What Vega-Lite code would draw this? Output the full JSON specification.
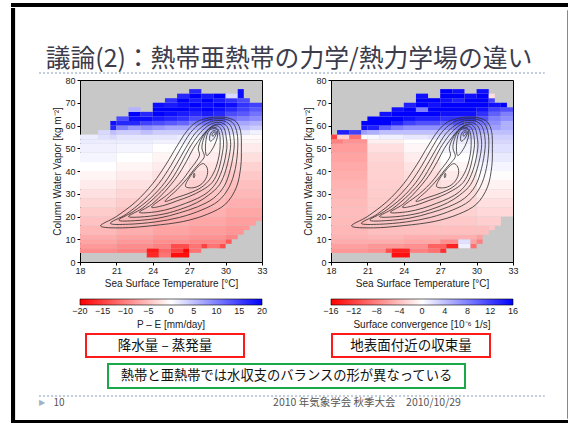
{
"$schema": "https://vega.github.io/schema/vega-lite/v6.json",
"background": "#ffffff",
"padding": {"left": 11, "top": 3, "right": 0, "bottom": 0},
"datasets": {
"pe": [
{"x":23.5,"x2":24.5,"y":2,"y2":4,"v":-17},{"x":24.5,"x2":25.5,"y":2,"y2":4,"v":-11},{"x":25.5,"x2":27,"y":2,"y2":4,"v":-19},
{"x":18,"x2":21,"y":4,"y2":6,"v":-9},{"x":21,"x2":23.5,"y":4,"y2":6,"v":-10},{"x":23.5,"x2":24.5,"y":4,"y2":6,"v":-18},{"x":24.5,"x2":25.5,"y":4,"y2":6,"v":-12},{"x":25.5,"x2":26.5,"y":4,"y2":6,"v":-15},{"x":26.5,"x2":27,"y":4,"y2":6,"v":-20},{"x":27,"x2":28,"y":4,"y2":6,"v":-11},
{"x":18,"x2":21,"y":6,"y2":8,"v":-8},{"x":21,"x2":24,"y":6,"y2":8,"v":-9},{"x":24,"x2":25.5,"y":6,"y2":8,"v":-10},{"x":25.5,"x2":27,"y":6,"y2":8,"v":-14},{"x":27,"x2":28,"y":6,"y2":8,"v":-11},{"x":28,"x2":28.5,"y":6,"y2":8,"v":-15},{"x":28.5,"x2":29.5,"y":6,"y2":8,"v":-11},{"x":29.5,"x2":30,"y":6,"y2":8,"v":-14},
{"x":18,"x2":21,"y":8,"y2":10,"v":-7.2},{"x":21,"x2":24,"y":8,"y2":10,"v":-8},{"x":24,"x2":27,"y":8,"y2":10,"v":-8.8},{"x":27,"x2":30,"y":8,"y2":10,"v":-9.5},{"x":30,"x2":30.5,"y":8,"y2":10,"v":-13},
{"x":18,"x2":21,"y":10,"y2":12,"v":-6.5},{"x":21,"x2":24,"y":10,"y2":12,"v":-7.3},{"x":24,"x2":27,"y":10,"y2":12,"v":-8.1},{"x":27,"x2":30,"y":10,"y2":12,"v":-8.5},{"x":30,"x2":31,"y":10,"y2":12,"v":-9.5},
{"x":18,"x2":21,"y":12,"y2":16,"v":-5.6},{"x":21,"x2":24,"y":12,"y2":16,"v":-6.4},{"x":24,"x2":27,"y":12,"y2":16,"v":-7.2},{"x":27,"x2":30,"y":12,"y2":16,"v":-7.8},{"x":30,"x2":31.5,"y":12,"y2":16,"v":-8.2},{"x":31.5,"x2":32,"y":14,"y2":16,"v":-8},
{"x":18,"x2":21,"y":16,"y2":20,"v":-4.8},{"x":21,"x2":24,"y":16,"y2":20,"v":-5.6},{"x":24,"x2":27,"y":16,"y2":20,"v":-6.4},{"x":27,"x2":30,"y":16,"y2":20,"v":-7},{"x":30,"x2":32.5,"y":16,"y2":20,"v":-7.6},{"x":32.5,"x2":33,"y":18,"y2":20,"v":-7.4},
{"x":18,"x2":21,"y":20,"y2":24,"v":-4},{"x":21,"x2":24,"y":20,"y2":24,"v":-4.8},{"x":24,"x2":27,"y":20,"y2":24,"v":-5.6},{"x":27,"x2":30,"y":20,"y2":24,"v":-6.2},{"x":30,"x2":33,"y":20,"y2":24,"v":-7},
{"x":18,"x2":21,"y":24,"y2":28,"v":-3.2},{"x":21,"x2":24,"y":24,"y2":28,"v":-4},{"x":24,"x2":27,"y":24,"y2":28,"v":-4.8},{"x":27,"x2":30,"y":24,"y2":28,"v":-5.4},{"x":30,"x2":33,"y":24,"y2":28,"v":-6.3},
{"x":18,"x2":21,"y":28,"y2":32,"v":-2.4},{"x":21,"x2":24,"y":28,"y2":32,"v":-3.2},{"x":24,"x2":27,"y":28,"y2":32,"v":-4},{"x":27,"x2":30,"y":28,"y2":32,"v":-4.6},{"x":30,"x2":33,"y":28,"y2":32,"v":-5.6},
{"x":18,"x2":21,"y":32,"y2":36,"v":-1.6},{"x":21,"x2":24,"y":32,"y2":36,"v":-2.4},{"x":24,"x2":27,"y":32,"y2":36,"v":-3.2},{"x":27,"x2":30,"y":32,"y2":36,"v":-3.8},{"x":30,"x2":33,"y":32,"y2":36,"v":-5},
{"x":18,"x2":21,"y":36,"y2":40,"v":-0.8},{"x":21,"x2":24,"y":36,"y2":40,"v":-1.6},{"x":24,"x2":27,"y":36,"y2":40,"v":-2.4},{"x":27,"x2":30,"y":36,"y2":40,"v":-3},{"x":30,"x2":33,"y":36,"y2":40,"v":-4.3},
{"x":18,"x2":21,"y":40,"y2":44,"v":0},{"x":21,"x2":24,"y":40,"y2":44,"v":-0.8},{"x":24,"x2":27,"y":40,"y2":44,"v":-1.6},{"x":27,"x2":30,"y":40,"y2":44,"v":-2.3},{"x":30,"x2":33,"y":40,"y2":44,"v":-3.5},
{"x":18,"x2":21,"y":44,"y2":48,"v":0.8},{"x":21,"x2":24,"y":44,"y2":48,"v":0},{"x":24,"x2":27,"y":44,"y2":48,"v":-0.8},{"x":27,"x2":30,"y":44,"y2":48,"v":-1.6},{"x":30,"x2":33,"y":44,"y2":48,"v":-2.6},
{"x":18,"x2":21,"y":48,"y2":52,"v":1.2},{"x":21,"x2":24,"y":48,"y2":52,"v":0.8},{"x":24,"x2":27,"y":48,"y2":52,"v":0},{"x":27,"x2":30,"y":48,"y2":52,"v":-0.8},{"x":30,"x2":33,"y":48,"y2":52,"v":-1.6},
{"x":18,"x2":21,"y":52,"y2":54,"v":1.5},{"x":21,"x2":24,"y":52,"y2":54,"v":1.5},{"x":24,"x2":27,"y":52,"y2":54,"v":1},{"x":27,"x2":30,"y":52,"y2":54,"v":0},{"x":30,"x2":33,"y":52,"y2":54,"v":-0.8},
{"x":18,"x2":19.5,"y":54,"y2":56,"v":1.5},{"x":19.5,"x2":20.5,"y":54,"y2":56,"v":2.5},{"x":20.5,"x2":21,"y":54,"y2":56,"v":3},{"x":21,"x2":26,"y":54,"y2":56,"v":2},{"x":26,"x2":27,"y":54,"y2":56,"v":1.5},{"x":27,"x2":28,"y":54,"y2":56,"v":1},{"x":28,"x2":29,"y":54,"y2":56,"v":1.5},{"x":29,"x2":30,"y":54,"y2":56,"v":1},{"x":30,"x2":31,"y":54,"y2":56,"v":0},{"x":31,"x2":33,"y":54,"y2":56,"v":-0.5},
{"x":19.5,"x2":20.5,"y":56,"y2":58,"v":3},{"x":20.5,"x2":21,"y":56,"y2":58,"v":5},{"x":21,"x2":23,"y":56,"y2":58,"v":4},{"x":23,"x2":24,"y":56,"y2":58,"v":5},{"x":24,"x2":27,"y":56,"y2":58,"v":4},{"x":27,"x2":28,"y":56,"y2":58,"v":3},{"x":28,"x2":30,"y":56,"y2":58,"v":4},{"x":30,"x2":31,"y":56,"y2":58,"v":3},{"x":31,"x2":32,"y":56,"y2":58,"v":2},{"x":32,"x2":33,"y":56,"y2":58,"v":1},
{"x":20.5,"x2":21,"y":58,"y2":60,"v":17},{"x":21,"x2":22,"y":58,"y2":60,"v":10},{"x":22,"x2":23,"y":58,"y2":60,"v":8},{"x":23,"x2":24,"y":58,"y2":60,"v":9},{"x":24,"x2":25,"y":58,"y2":60,"v":8},{"x":25,"x2":27,"y":58,"y2":60,"v":7},{"x":27,"x2":28,"y":58,"y2":60,"v":6},{"x":28,"x2":30,"y":58,"y2":60,"v":7},{"x":30,"x2":32,"y":58,"y2":60,"v":5},{"x":32,"x2":33,"y":58,"y2":60,"v":4},
{"x":20.5,"x2":21,"y":60,"y2":62,"v":19},{"x":21,"x2":23,"y":60,"y2":62,"v":17},{"x":23,"x2":24,"y":60,"y2":62,"v":15},{"x":24,"x2":25,"y":60,"y2":62,"v":14},{"x":25,"x2":26,"y":60,"y2":62,"v":13},{"x":26,"x2":27,"y":60,"y2":62,"v":12},{"x":27,"x2":28,"y":60,"y2":62,"v":10},{"x":28,"x2":30,"y":60,"y2":62,"v":11},{"x":30,"x2":31,"y":60,"y2":62,"v":8},{"x":31,"x2":32,"y":60,"y2":62,"v":7},{"x":32,"x2":33,"y":60,"y2":62,"v":6},
{"x":21,"x2":22,"y":62,"y2":64,"v":14},{"x":22,"x2":24,"y":62,"y2":64,"v":19},{"x":24,"x2":25,"y":62,"y2":64,"v":18},{"x":25,"x2":26,"y":62,"y2":64,"v":17},{"x":26,"x2":27,"y":62,"y2":64,"v":16},{"x":27,"x2":28,"y":62,"y2":64,"v":14},{"x":28,"x2":29,"y":62,"y2":64,"v":15},{"x":29,"x2":30,"y":62,"y2":64,"v":14},{"x":30,"x2":31,"y":62,"y2":64,"v":11},{"x":31,"x2":32,"y":62,"y2":64,"v":10},{"x":32,"x2":33,"y":62,"y2":64,"v":9},
{"x":22,"x2":23,"y":64,"y2":66,"v":20},{"x":23,"x2":24,"y":64,"y2":66,"v":17},{"x":24,"x2":25,"y":64,"y2":66,"v":20},{"x":25,"x2":26,"y":64,"y2":66,"v":19},{"x":26,"x2":27,"y":64,"y2":66,"v":18},{"x":27,"x2":28,"y":64,"y2":66,"v":17},{"x":28,"x2":29,"y":64,"y2":66,"v":18},{"x":29,"x2":30,"y":64,"y2":66,"v":17},{"x":30,"x2":31,"y":64,"y2":66,"v":14},{"x":31,"x2":32,"y":64,"y2":66,"v":13},{"x":32,"x2":33,"y":64,"y2":66,"v":11},
{"x":22,"x2":23,"y":66,"y2":68,"v":6},{"x":24,"x2":27,"y":66,"y2":68,"v":20},{"x":27,"x2":28,"y":66,"y2":68,"v":19},{"x":28,"x2":29,"y":66,"y2":68,"v":20},{"x":29,"x2":30,"y":66,"y2":68,"v":19},{"x":30,"x2":31,"y":66,"y2":68,"v":17},{"x":31,"x2":32,"y":66,"y2":68,"v":15},{"x":32,"x2":33,"y":66,"y2":68,"v":13},
{"x":24,"x2":25,"y":68,"y2":70,"v":19},{"x":25,"x2":26,"y":68,"y2":70,"v":18},{"x":26,"x2":27,"y":68,"y2":70,"v":19},{"x":27,"x2":28,"y":68,"y2":70,"v":20},{"x":28,"x2":29,"y":68,"y2":70,"v":19},{"x":29,"x2":30,"y":68,"y2":70,"v":20},{"x":30,"x2":31,"y":68,"y2":70,"v":19},{"x":31,"x2":32,"y":68,"y2":70,"v":16},{"x":32,"x2":33,"y":68,"y2":70,"v":15},
{"x":25,"x2":26,"y":70,"y2":72,"v":16},{"x":26,"x2":27,"y":70,"y2":72,"v":20},{"x":27,"x2":28,"y":70,"y2":72,"v":18},{"x":28,"x2":29,"y":70,"y2":72,"v":20},{"x":29,"x2":30,"y":70,"y2":72,"v":18},{"x":30,"x2":31,"y":70,"y2":72,"v":16},{"x":31,"x2":32,"y":70,"y2":72,"v":14},
{"x":26,"x2":27,"y":72,"y2":74,"v":17},{"x":27,"x2":28,"y":72,"y2":74,"v":20},{"x":28,"x2":29,"y":72,"y2":74,"v":18},{"x":29,"x2":30,"y":72,"y2":74,"v":20},{"x":30,"x2":31,"y":72,"y2":74,"v":3},{"x":31,"x2":31.5,"y":72,"y2":76,"v":19},
{"x":27,"x2":28,"y":74,"y2":76,"v":17}
],
"cv": [
{"x":23,"x2":24.5,"y":2,"y2":4,"v":-15},
{"x":18,"x2":21,"y":4,"y2":6,"v":-6.5},{"x":21,"x2":22.5,"y":4,"y2":6,"v":-7},{"x":22.5,"x2":23,"y":4,"y2":6,"v":-11},{"x":23,"x2":24.5,"y":4,"y2":6,"v":-14},{"x":24.5,"x2":26,"y":4,"y2":6,"v":-8},{"x":26,"x2":27,"y":4,"y2":6,"v":-9},{"x":27,"x2":27.5,"y":4,"y2":6,"v":-13},
{"x":18,"x2":21,"y":6,"y2":8,"v":-6},{"x":21,"x2":24,"y":6,"y2":8,"v":-6.5},{"x":24,"x2":26,"y":6,"y2":8,"v":-7},{"x":26,"x2":27.5,"y":6,"y2":8,"v":-10},{"x":27.5,"x2":28.5,"y":6,"y2":8,"v":-14},{"x":28.5,"x2":29.5,"y":6,"y2":8,"v":1},{"x":29.5,"x2":30,"y":6,"y2":8,"v":-9},
{"x":18,"x2":21,"y":8,"y2":10,"v":-5.2},{"x":21,"x2":24,"y":8,"y2":10,"v":-5.2},{"x":24,"x2":27,"y":8,"y2":10,"v":-5.5},{"x":27,"x2":28.5,"y":8,"y2":10,"v":-7},{"x":28.5,"x2":29.5,"y":8,"y2":10,"v":2},{"x":29.5,"x2":30,"y":8,"y2":10,"v":-6},{"x":30,"x2":30.5,"y":8,"y2":10,"v":-8},
{"x":18,"x2":21,"y":10,"y2":12,"v":-4.8},{"x":21,"x2":24,"y":10,"y2":12,"v":-4.6},{"x":24,"x2":27,"y":10,"y2":12,"v":-5},{"x":27,"x2":30,"y":10,"y2":12,"v":-5},{"x":30,"x2":30.5,"y":10,"y2":12,"v":-6},
{"x":18,"x2":21,"y":12,"y2":16,"v":-4.5},{"x":21,"x2":24,"y":12,"y2":16,"v":-4},{"x":24,"x2":27,"y":12,"y2":16,"v":-4},{"x":27,"x2":30,"y":12,"y2":16,"v":-4},{"x":30,"x2":31,"y":12,"y2":16,"v":-4},{"x":31,"x2":31.5,"y":14,"y2":16,"v":-3.5},
{"x":18,"x2":21,"y":16,"y2":20,"v":-4.3},{"x":21,"x2":24,"y":16,"y2":20,"v":-3.6},{"x":24,"x2":27,"y":16,"y2":20,"v":-3.5},{"x":27,"x2":30,"y":16,"y2":20,"v":-3.4},{"x":30,"x2":32,"y":16,"y2":20,"v":-3},
{"x":18,"x2":21,"y":20,"y2":24,"v":-4.2},{"x":21,"x2":24,"y":20,"y2":24,"v":-3.4},{"x":24,"x2":27,"y":20,"y2":24,"v":-3.1},{"x":27,"x2":30,"y":20,"y2":24,"v":-2.9},{"x":30,"x2":33,"y":20,"y2":24,"v":-2.4},
{"x":18,"x2":21,"y":24,"y2":28,"v":-4.3},{"x":21,"x2":24,"y":24,"y2":28,"v":-3.3},{"x":24,"x2":27,"y":24,"y2":28,"v":-3},{"x":27,"x2":30,"y":24,"y2":28,"v":-2.6},{"x":30,"x2":33,"y":24,"y2":28,"v":-2},
{"x":18,"x2":21,"y":28,"y2":32,"v":-4.5},{"x":21,"x2":24,"y":28,"y2":32,"v":-3.2},{"x":24,"x2":27,"y":28,"y2":32,"v":-2.8},{"x":27,"x2":30,"y":28,"y2":32,"v":-2.3},{"x":30,"x2":33,"y":28,"y2":32,"v":-1.4},
{"x":18,"x2":21,"y":32,"y2":36,"v":-4.8},{"x":21,"x2":24,"y":32,"y2":36,"v":-3},{"x":24,"x2":27,"y":32,"y2":36,"v":-2.5},{"x":27,"x2":30,"y":32,"y2":36,"v":-1.9},{"x":30,"x2":33,"y":32,"y2":36,"v":-0.8},
{"x":18,"x2":21,"y":36,"y2":40,"v":-5.1},{"x":21,"x2":24,"y":36,"y2":40,"v":-2.9},{"x":24,"x2":27,"y":36,"y2":40,"v":-2.2},{"x":27,"x2":30,"y":36,"y2":40,"v":-1.3},{"x":30,"x2":33,"y":36,"y2":40,"v":-0.2},
{"x":18,"x2":21,"y":40,"y2":44,"v":-5.4},{"x":21,"x2":24,"y":40,"y2":44,"v":-2.8},{"x":24,"x2":27,"y":40,"y2":44,"v":-1.8},{"x":27,"x2":30,"y":40,"y2":44,"v":-0.6},{"x":30,"x2":33,"y":40,"y2":44,"v":0.6},
{"x":18,"x2":21,"y":44,"y2":48,"v":-5.8},{"x":21,"x2":24,"y":44,"y2":48,"v":-2.6},{"x":24,"x2":27,"y":44,"y2":48,"v":-1.2},{"x":27,"x2":30,"y":44,"y2":48,"v":0},{"x":30,"x2":33,"y":44,"y2":48,"v":1.3},
{"x":18,"x2":21,"y":48,"y2":52,"v":-6.2},{"x":21,"x2":24,"y":48,"y2":52,"v":-2},{"x":24,"x2":27,"y":48,"y2":52,"v":-0.5},{"x":27,"x2":30,"y":48,"y2":52,"v":0.6},{"x":30,"x2":33,"y":48,"y2":52,"v":2},
{"x":18,"x2":19,"y":52,"y2":54,"v":-8},{"x":19,"x2":21,"y":52,"y2":54,"v":-6.8},{"x":21,"x2":24,"y":52,"y2":54,"v":-1},{"x":24,"x2":27,"y":52,"y2":54,"v":0},{"x":27,"x2":30,"y":52,"y2":54,"v":1.2},{"x":30,"x2":33,"y":52,"y2":54,"v":2.6},
{"x":18,"x2":18.5,"y":54,"y2":56,"v":-12},{"x":18.5,"x2":19.5,"y":54,"y2":56,"v":-3},{"x":19.5,"x2":20.5,"y":54,"y2":56,"v":-9},{"x":20.5,"x2":21,"y":54,"y2":56,"v":0},{"x":21,"x2":22,"y":54,"y2":56,"v":0.5},{"x":22,"x2":24,"y":54,"y2":56,"v":1},{"x":24,"x2":26,"y":54,"y2":56,"v":1.5},{"x":26,"x2":28,"y":54,"y2":56,"v":2},{"x":28,"x2":29,"y":54,"y2":56,"v":2.5},{"x":29,"x2":33,"y":54,"y2":56,"v":3},
{"x":18.5,"x2":19.5,"y":56,"y2":58,"v":14},{"x":19.5,"x2":20.5,"y":56,"y2":58,"v":12},{"x":20.5,"x2":21,"y":56,"y2":58,"v":6},{"x":21,"x2":22,"y":56,"y2":58,"v":5},{"x":22,"x2":28,"y":56,"y2":58,"v":4},{"x":28,"x2":31,"y":56,"y2":58,"v":5},{"x":31,"x2":33,"y":56,"y2":58,"v":4},
{"x":20.5,"x2":21,"y":58,"y2":60,"v":15},{"x":21,"x2":22,"y":58,"y2":60,"v":14},{"x":22,"x2":23,"y":58,"y2":60,"v":10},{"x":23,"x2":24,"y":58,"y2":60,"v":8},{"x":24,"x2":28,"y":58,"y2":60,"v":7},{"x":28,"x2":30,"y":58,"y2":60,"v":8},{"x":30,"x2":31,"y":58,"y2":60,"v":7},{"x":31,"x2":32,"y":58,"y2":60,"v":6},{"x":32,"x2":33,"y":58,"y2":60,"v":5},
{"x":20.5,"x2":23,"y":60,"y2":62,"v":16},{"x":23,"x2":24,"y":60,"y2":62,"v":14},{"x":24,"x2":25,"y":60,"y2":62,"v":12},{"x":25,"x2":27,"y":60,"y2":62,"v":11},{"x":27,"x2":28,"y":60,"y2":62,"v":10},{"x":28,"x2":29,"y":60,"y2":62,"v":11},{"x":29,"x2":30,"y":60,"y2":62,"v":10},{"x":30,"x2":31,"y":60,"y2":62,"v":9},{"x":31,"x2":32,"y":60,"y2":62,"v":7},{"x":32,"x2":33,"y":60,"y2":62,"v":5},
{"x":21,"x2":24,"y":62,"y2":64,"v":16},{"x":24,"x2":25,"y":62,"y2":64,"v":15},{"x":25,"x2":27,"y":62,"y2":64,"v":14},{"x":27,"x2":30,"y":62,"y2":64,"v":13},{"x":30,"x2":31,"y":62,"y2":64,"v":11},{"x":31,"x2":32,"y":62,"y2":64,"v":8},{"x":32,"x2":33,"y":62,"y2":64,"v":7},
{"x":22,"x2":23,"y":64,"y2":66,"v":15},{"x":23,"x2":27,"y":64,"y2":66,"v":16},{"x":27,"x2":30,"y":64,"y2":66,"v":15},{"x":30,"x2":31,"y":64,"y2":66,"v":13},{"x":31,"x2":32,"y":64,"y2":66,"v":10},{"x":32,"x2":33,"y":64,"y2":66,"v":8},
{"x":23,"x2":24,"y":66,"y2":68,"v":15},{"x":24,"x2":25,"y":66,"y2":68,"v":16},{"x":25,"x2":26,"y":66,"y2":68,"v":8},{"x":26,"x2":30,"y":66,"y2":68,"v":16},{"x":30,"x2":31,"y":66,"y2":68,"v":15},{"x":31,"x2":32,"y":66,"y2":68,"v":12},{"x":32,"x2":33,"y":66,"y2":68,"v":11},
{"x":24,"x2":25,"y":68,"y2":70,"v":14},{"x":25,"x2":26,"y":68,"y2":70,"v":16},{"x":26,"x2":27,"y":68,"y2":70,"v":15},{"x":27,"x2":31,"y":68,"y2":70,"v":16},{"x":31,"x2":32,"y":68,"y2":70,"v":15},{"x":32,"x2":32.5,"y":68,"y2":70,"v":16},
{"x":25,"x2":27,"y":70,"y2":72,"v":16},{"x":27,"x2":28,"y":70,"y2":72,"v":15},{"x":28,"x2":29,"y":70,"y2":72,"v":14},{"x":29,"x2":31,"y":70,"y2":72,"v":16},{"x":31,"x2":31.5,"y":70,"y2":72,"v":12},
{"x":25,"x2":26,"y":72,"y2":74,"v":15},{"x":27,"x2":29,"y":72,"y2":74,"v":16},{"x":29,"x2":30,"y":72,"y2":74,"v":15},{"x":30,"x2":31,"y":72,"y2":74,"v":16},{"x":31,"x2":31.5,"y":72,"y2":74,"v":-2},
{"x":27,"x2":28,"y":74,"y2":76,"v":16},{"x":28,"x2":29,"y":74,"y2":76,"v":15},{"x":30,"x2":31,"y":74,"y2":76,"v":15}
],
"cont": [
{"c":"1","sst":19.7,"cwv":15.8},{"c":"1","sst":21.5,"cwv":15.0},{"c":"1","sst":24.0,"cwv":16.0},{"c":"1","sst":26.5,"cwv":17.8},{"c":"1","sst":28.5,"cwv":21.0},{"c":"1","sst":30.0,"cwv":25.5},{"c":"1","sst":30.9,"cwv":33},{"c":"1","sst":31.25,"cwv":42},{"c":"1","sst":31.3,"cwv":50},{"c":"1","sst":31.25,"cwv":57},{"c":"1","sst":30.9,"cwv":61.5},{"c":"1","sst":30.2,"cwv":63.3},{"c":"1","sst":29.5,"cwv":63.7},{"c":"1","sst":28.6,"cwv":63.3},{"c":"1","sst":27.6,"cwv":61.5},{"c":"1","sst":26.8,"cwv":57.5},{"c":"1","sst":26.0,"cwv":51},{"c":"1","sst":25.1,"cwv":43},{"c":"1","sst":24.0,"cwv":34.5},{"c":"1","sst":22.6,"cwv":26.5},{"c":"1","sst":21.0,"cwv":20},
{"c":"2","sst":20.5,"cwv":17.0},{"c":"2","sst":22.0,"cwv":16.6},{"c":"2","sst":24.2,"cwv":17.6},{"c":"2","sst":26.2,"cwv":19.6},{"c":"2","sst":28.0,"cwv":22.8},{"c":"2","sst":29.4,"cwv":26.8},{"c":"2","sst":30.3,"cwv":33},{"c":"2","sst":30.8,"cwv":41},{"c":"2","sst":31.0,"cwv":50},{"c":"2","sst":30.95,"cwv":56.5},{"c":"2","sst":30.65,"cwv":60.8},{"c":"2","sst":30.1,"cwv":62.6},{"c":"2","sst":29.5,"cwv":63.0},{"c":"2","sst":28.7,"cwv":62.6},{"c":"2","sst":27.9,"cwv":60.8},{"c":"2","sst":27.1,"cwv":56.8},{"c":"2","sst":26.3,"cwv":50},{"c":"2","sst":25.5,"cwv":42.5},{"c":"2","sst":24.5,"cwv":34.5},{"c":"2","sst":23.2,"cwv":27},{"c":"2","sst":21.8,"cwv":21},
{"c":"3","sst":21.2,"cwv":18.4},{"c":"3","sst":22.6,"cwv":18.2},{"c":"3","sst":24.5,"cwv":19.3},{"c":"3","sst":26.2,"cwv":21.6},{"c":"3","sst":27.7,"cwv":24.3},{"c":"3","sst":29.0,"cwv":28.0},{"c":"3","sst":29.9,"cwv":33.5},{"c":"3","sst":30.4,"cwv":41},{"c":"3","sst":30.7,"cwv":50},{"c":"3","sst":30.65,"cwv":56},{"c":"3","sst":30.4,"cwv":60},{"c":"3","sst":29.95,"cwv":61.8},{"c":"3","sst":29.5,"cwv":62.2},{"c":"3","sst":28.85,"cwv":61.8},{"c":"3","sst":28.2,"cwv":60},{"c":"3","sst":27.45,"cwv":56.3},{"c":"3","sst":26.7,"cwv":50},{"c":"3","sst":25.95,"cwv":43},{"c":"3","sst":25.0,"cwv":35},{"c":"3","sst":23.8,"cwv":28},{"c":"3","sst":22.4,"cwv":22.2},
{"c":"4","sst":22.0,"cwv":20.0},{"c":"4","sst":23.3,"cwv":19.9},{"c":"4","sst":25.0,"cwv":21.2},{"c":"4","sst":26.4,"cwv":23.4},{"c":"4","sst":27.6,"cwv":26.0},{"c":"4","sst":28.6,"cwv":29.4},{"c":"4","sst":29.5,"cwv":34},{"c":"4","sst":30.05,"cwv":41},{"c":"4","sst":30.4,"cwv":50},{"c":"4","sst":30.35,"cwv":55.5},{"c":"4","sst":30.15,"cwv":59.3},{"c":"4","sst":29.8,"cwv":60.9},{"c":"4","sst":29.5,"cwv":61.4},{"c":"4","sst":28.95,"cwv":61.0},{"c":"4","sst":28.4,"cwv":59.3},{"c":"4","sst":27.75,"cwv":55.8},{"c":"4","sst":27.0,"cwv":50},{"c":"4","sst":26.35,"cwv":43.5},{"c":"4","sst":25.5,"cwv":36},{"c":"4","sst":24.4,"cwv":29.5},{"c":"4","sst":23.1,"cwv":23.5},
{"c":"5","sst":22.9,"cwv":21.8},{"c":"5","sst":24.3,"cwv":22.1},{"c":"5","sst":25.6,"cwv":23.7},{"c":"5","sst":26.7,"cwv":25.8},{"c":"5","sst":27.7,"cwv":28.0},{"c":"5","sst":28.6,"cwv":31},{"c":"5","sst":29.3,"cwv":35.5},{"c":"5","sst":29.8,"cwv":42},{"c":"5","sst":30.1,"cwv":50},{"c":"5","sst":30.05,"cwv":55},{"c":"5","sst":29.9,"cwv":58.5},{"c":"5","sst":29.65,"cwv":60.1},{"c":"5","sst":29.45,"cwv":60.6},{"c":"5","sst":29.05,"cwv":60.2},{"c":"5","sst":28.6,"cwv":58.5},{"c":"5","sst":28.05,"cwv":55.3},{"c":"5","sst":27.35,"cwv":50},{"c":"5","sst":26.75,"cwv":44},{"c":"5","sst":26.0,"cwv":37.5},{"c":"5","sst":25.0,"cwv":31},{"c":"5","sst":23.9,"cwv":25.3},
{"c":"6","sst":23.9,"cwv":24.2},{"c":"6","sst":25.0,"cwv":25.0},{"c":"6","sst":26.0,"cwv":26.9},{"c":"6","sst":27.0,"cwv":28.8},{"c":"6","sst":28.0,"cwv":31.4},{"c":"6","sst":28.9,"cwv":35},{"c":"6","sst":29.45,"cwv":41},{"c":"6","sst":29.8,"cwv":50},{"c":"6","sst":29.8,"cwv":54.7},{"c":"6","sst":29.65,"cwv":58},{"c":"6","sst":29.45,"cwv":59.5},{"c":"6","sst":29.15,"cwv":59.9},{"c":"6","sst":28.8,"cwv":59.3},{"c":"6","sst":28.4,"cwv":57.3},{"c":"6","sst":28.0,"cwv":54},{"c":"6","sst":27.75,"cwv":50},{"c":"6","sst":27.85,"cwv":47},{"c":"6","sst":27.55,"cwv":44},{"c":"6","sst":27.05,"cwv":40.5},{"c":"6","sst":26.35,"cwv":35.5},{"c":"6","sst":25.3,"cwv":30},
{"c":"7","sst":25.0,"cwv":26.7},{"c":"7","sst":26.0,"cwv":28.4},{"c":"7","sst":27.0,"cwv":30.2},{"c":"7","sst":28.0,"cwv":32.8},{"c":"7","sst":28.7,"cwv":36.4},{"c":"7","sst":29.2,"cwv":41.5},{"c":"7","sst":29.5,"cwv":48},{"c":"7","sst":29.55,"cwv":54},{"c":"7","sst":29.45,"cwv":57.4},{"c":"7","sst":29.25,"cwv":58.9},{"c":"7","sst":29.0,"cwv":59.2},{"c":"7","sst":28.7,"cwv":58.6},{"c":"7","sst":28.4,"cwv":56.8},{"c":"7","sst":28.15,"cwv":53.5},{"c":"7","sst":28.05,"cwv":50},{"c":"7","sst":28.25,"cwv":46.5},{"c":"7","sst":27.95,"cwv":44},{"c":"7","sst":27.45,"cwv":41},{"c":"7","sst":26.8,"cwv":36.5},{"c":"7","sst":26.0,"cwv":31.8},
{"c":"8a","sst":29.25,"cwv":58.4},{"c":"8a","sst":28.95,"cwv":58.6},{"c":"8a","sst":28.65,"cwv":57.8},{"c":"8a","sst":28.45,"cwv":55.5},{"c":"8a","sst":28.35,"cwv":52},{"c":"8a","sst":28.35,"cwv":48.5},{"c":"8a","sst":28.45,"cwv":46.8},{"c":"8a","sst":28.7,"cwv":48},{"c":"8a","sst":29.05,"cwv":51},{"c":"8a","sst":29.3,"cwv":54.5},{"c":"8a","sst":29.35,"cwv":57},
{"c":"8b","sst":26.7,"cwv":33.2},{"c":"8b","sst":27.4,"cwv":32.7},{"c":"8b","sst":28.05,"cwv":34.4},{"c":"8b","sst":28.45,"cwv":37.6},{"c":"8b","sst":28.5,"cwv":41},{"c":"8b","sst":28.2,"cwv":43.2},{"c":"8b","sst":27.85,"cwv":42.5},{"c":"8b","sst":27.5,"cwv":40.5},{"c":"8b","sst":27.0,"cwv":37},
{"c":"9a","sst":29.1,"cwv":57.8},{"c":"9a","sst":28.85,"cwv":57.2},{"c":"9a","sst":28.7,"cwv":55.5},{"c":"9a","sst":28.7,"cwv":53.3},{"c":"9a","sst":28.9,"cwv":53.5},{"c":"9a","sst":29.15,"cwv":55.3},{"c":"9a","sst":29.25,"cwv":57},
{"c":"10a","sst":29.05,"cwv":57.2},{"c":"10a","sst":28.9,"cwv":56.4},{"c":"10a","sst":28.92,"cwv":55.3},{"c":"10a","sst":29.1,"cwv":56},{"c":"10a","sst":29.15,"cwv":56.9},
{"c":"10b","sst":27.38,"cwv":37.0},{"c":"10b","sst":27.46,"cwv":38},{"c":"10b","sst":27.42,"cwv":39},{"c":"10b","sst":27.34,"cwv":38}
]
},
"vconcat": [
 {"width": 553, "height": 0.1, "data": {"values": []}, "mark": "text", "view": {"stroke": "#000000", "strokeWidth": 4}},
 {"hconcat": [
  {"width": 0.1, "height": 408, "data": {"values": []}, "mark": "text", "view": {"stroke": "#000000", "strokeWidth": 4}},
  {"width": 21.5, "height": 1, "data": {"values": []}, "mark": "text"},
  {"vconcat": [
   {"width": 1, "height": 36, "data": {"values": []}, "mark": "text"},
   {"width": 500, "height": 25, "data": {"values": [{"t": "議論(2)：熱帯亜熱帯の力学/熱力学場の違い"}]}, "mark": {"type": "text", "font": "Noto Sans CJK JP", "fontSize": 24.8, "color": "#3c3c4c"}, "encoding": {"text": {"field": "t", "type": "nominal"}}},
   {"width": 505, "height": 0.1, "data": {"values": []}, "mark": "text", "view": {"stroke": "#aebfd3", "strokeWidth": 1.5, "strokeDash": [2, 2]}},
   {"width": 1, "height": 1, "data": {"values": []}, "mark": "text"},
   {"hconcat": [
    {"width": 12.5, "height": 1, "data": {"values": []}, "mark": "text"},
    {"hconcat": [
     {"width": 182, "height": 182, "view": {"fill": "#c8c8c8", "stroke": "#000000", "strokeWidth": 1},
      "layer": [
       {"data": {"name": "pe"}, "mark": {"type": "rect"},
        "encoding": {
         "x": {"field": "x", "type": "quantitative", "scale": {"domain": [18, 33], "nice": false, "zero": false}, "axis": {"values": [18, 21, 24, 27, 30, 33], "tickCount": 20, "labelOverlap": false, "title": "Sea Surface Temperature [°C]"}},
         "x2": {"field": "x2"},
         "y": {"field": "y", "type": "quantitative", "scale": {"domain": [0, 80], "nice": false, "zero": false}, "axis": {"values": [0, 10, 20, 30, 40, 50, 60, 70, 80], "tickCount": 20, "labelOverlap": false, "title": "Column Water Vapor [kg m⁻²]"}},
         "y2": {"field": "y2"},
         "fill": {"field": "v", "type": "quantitative", "scale": {"domain": [-20, 0, 20], "range": ["#ff0000", "#ffffff", "#0000ff"], "interpolate": "rgb"}, "legend": {"type": "gradient", "title": "P – E [mm/day]", "values": [-20, -15, -10, -5, 0, 5, 10, 15, 20], "encode": {"labels": {"update": {"align": {"value": "center"}}}}}}
        }},
       {"data": {"name": "cont"}, "mark": {"type": "line", "interpolate": "cardinal-closed", "color": "#2a2a2a", "strokeWidth": 0.8},
        "encoding": {"x": {"field": "sst", "type": "quantitative"}, "y": {"field": "cwv", "type": "quantitative"}, "detail": {"field": "c", "type": "nominal"}, "order": {"value": null}}}
      ]},
     {"width": 182, "height": 182, "view": {"fill": "#c8c8c8", "stroke": "#000000", "strokeWidth": 1},
      "layer": [
       {"data": {"name": "cv"}, "mark": {"type": "rect"},
        "encoding": {
         "x": {"field": "x", "type": "quantitative", "scale": {"domain": [18, 33], "nice": false, "zero": false}, "axis": {"values": [18, 21, 24, 27, 30, 33], "tickCount": 20, "labelOverlap": false, "title": "Sea Surface Temperature [°C]"}},
         "x2": {"field": "x2"},
         "y": {"field": "y", "type": "quantitative", "scale": {"domain": [0, 80], "nice": false, "zero": false}, "axis": {"values": [0, 10, 20, 30, 40, 50, 60, 70, 80], "tickCount": 20, "labelOverlap": false, "title": "Column Water Vapor [kg m⁻²]"}},
         "y2": {"field": "y2"},
         "fill": {"field": "v", "type": "quantitative", "scale": {"domain": [-16, 0, 16], "range": ["#ff0000", "#ffffff", "#0000ff"], "interpolate": "rgb"}, "legend": {"type": "gradient", "title": "Surface convergence  [10⁻⁶ 1/s]", "values": [-16, -12, -8, -4, 0, 4, 8, 12, 16], "encode": {"labels": {"update": {"align": {"value": "center"}}}}}}
        }},
       {"data": {"name": "cont"}, "mark": {"type": "line", "interpolate": "cardinal-closed", "color": "#2a2a2a", "strokeWidth": 0.8},
        "encoding": {"x": {"field": "sst", "type": "quantitative"}, "y": {"field": "cwv", "type": "quantitative"}, "detail": {"field": "c", "type": "nominal"}, "order": {"value": null}}}
      ]}
    ], "spacing": 34, "resolve": {"scale": {"fill": "independent"}, "legend": {"fill": "independent"}}}
   ], "spacing": 0},
   {"width": 1, "height": 2, "data": {"values": []}, "mark": "text"},
   {"hconcat": [
    {"width": 46, "height": 1, "data": {"values": []}, "mark": "text"},
    {"width": 158, "height": 23, "view": {"stroke": "#ff1a1a", "strokeWidth": 2}, "data": {"values": [{"t": "降水量 – 蒸発量"}]}, "mark": {"type": "text", "font": "Noto Sans CJK JP", "fontSize": 13.5, "color": "#111111"}, "encoding": {"text": {"field": "t", "type": "nominal"}}},
    {"width": 86, "height": 1, "data": {"values": []}, "mark": "text"},
    {"width": 158, "height": 23, "view": {"stroke": "#ff1a1a", "strokeWidth": 2}, "data": {"values": [{"t": "地表面付近の収束量"}]}, "mark": {"type": "text", "font": "Noto Sans CJK JP", "fontSize": 13.5, "color": "#111111"}, "encoding": {"text": {"field": "t", "type": "nominal"}}}
   ], "spacing": 0},
   {"width": 1, "height": 5, "data": {"values": []}, "mark": "text"},
   {"hconcat": [
    {"width": 68, "height": 1, "data": {"values": []}, "mark": "text"},
    {"width": 357, "height": 24, "view": {"stroke": "#19a84a", "strokeWidth": 2}, "data": {"values": [{"t": "熱帯と亜熱帯では水収支のバランスの形が異なっている"}]}, "mark": {"type": "text", "font": "Noto Sans CJK JP", "fontSize": 13.3, "color": "#111111"}, "encoding": {"text": {"field": "t", "type": "nominal"}}}
   ], "spacing": 0},
   {"width": 1, "height": 5.5, "data": {"values": []}, "mark": "text"},
   {"width": 505, "height": 0.1, "data": {"values": []}, "mark": "text", "view": {"stroke": "#aebfd3", "strokeWidth": 1.5, "strokeDash": [2, 2]}},
   {"hconcat": [
    {"width": 6, "height": 9, "data": {"values": [{"t": "▶"}]}, "mark": {"type": "text", "font": "DejaVu Sans", "fontSize": 8, "color": "#9fb3c8"}, "encoding": {"text": {"field": "t", "type": "nominal"}}},
    {"width": 7, "height": 1, "data": {"values": []}, "mark": "text"},
    {"width": 10, "height": 9, "data": {"values": [{"t": "10"}]}, "mark": {"type": "text", "font": "Noto Sans CJK JP", "fontSize": 10, "color": "#555555"}, "encoding": {"text": {"field": "t", "type": "nominal"}}},
    {"width": 192, "height": 1, "data": {"values": []}, "mark": "text"},
    {"width": 220, "height": 9, "data": {"values": [{"t": "2010 年気象学会 秋季大会　2010/10/29"}]}, "mark": {"type": "text", "font": "Noto Sans CJK JP", "fontSize": 10.5, "color": "#555555"}, "encoding": {"text": {"field": "t", "type": "nominal"}}}
   ], "spacing": 0}
  ], "spacing": 0},
  {"width": 21, "height": 1, "data": {"values": []}, "mark": "text"},
  {"width": 0.1, "height": 408, "data": {"values": []}, "mark": "text", "view": {"stroke": "#888888", "strokeWidth": 1}}
 ], "spacing": 0},
 {"width": 553, "height": 0.1, "data": {"values": []}, "mark": "text", "view": {"stroke": "#000000", "strokeWidth": 4}}
],
"spacing": 0,
"config": {
 "view": {"stroke": null},
 "concat": {"spacing": 0},
 "font": "Liberation Sans",
 "axis": {"labelFont": "Liberation Sans", "labelFontSize": 9, "labelColor": "#222222", "titleFont": "Liberation Sans", "titleFontSize": 10, "titleFontWeight": "normal", "titleColor": "#222222", "tickSize": 3, "tickColor": "#000000", "domainColor": "#000000", "grid": false, "labelFlush": false, "labelOverlap": false, "labelPadding": 1.5, "titlePadding": 2.5},
 "axisY": {"labelPadding": 2, "titlePadding": 2},
 "legend": {"orient": "bottom", "direction": "horizontal", "gradientLength": 182, "gradientThickness": 6, "gradientStrokeColor": "#000000", "gradientStrokeWidth": 0.6, "titleOrient": "bottom", "titleAnchor": "middle", "titleFont": "Liberation Sans", "titleFontSize": 10, "titleFontWeight": "normal", "titleColor": "#222222", "labelFont": "Liberation Sans", "labelFontSize": 9, "labelColor": "#222222", "labelOverlap": false, "offset": 11, "padding": 0, "titlePadding": 4, "labelOffset": 3}
}
}
